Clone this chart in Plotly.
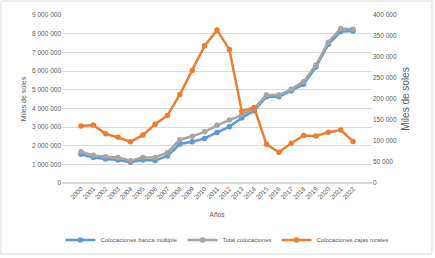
import plotly.graph_objects as go

years = [str(y) for y in range(2000, 2023)]
banca_multiple = [1540000, 1360000, 1290000, 1230000, 1110000, 1230000, 1200000, 1450000,
                  2090000, 2210000, 2390000, 2710000, 3020000, 3480000, 3870000, 4620000,
                  4620000, 4930000, 5290000, 6210000, 7430000, 8110000, 8140000]
total_colocaciones = [1680000, 1480000, 1410000, 1360000, 1190000, 1370000, 1370000, 1640000,
                      2320000, 2500000, 2740000, 3090000, 3370000, 3640000, 4000000, 4710000,
                      4710000, 5020000, 5430000, 6320000, 7540000, 8280000, 8230000]
cajas_rurales = [136000, 138000, 117000, 109000, 98000, 114000, 140000, 161000,
                 211000, 268000, 327000, 364000, 318000, 171000, 180000, 92000,
                 73000, 94500, 113000, 112000, 121000, 126000, 99000]

left_ticks = list(range(0, 9000001, 1000000))
left_labels = ["0" if v == 0 else f"{v:,}".replace(",", " ") for v in left_ticks]
right_ticks = list(range(0, 400001, 50000))
right_labels = ["0" if v == 0 else f"{v:,}".replace(",", " ") for v in right_ticks]

FONT = "Liberation Sans"
GRAY = "#595959"

fig = go.Figure()
fig.add_trace(go.Scatter(x=years, y=banca_multiple, name="Colocaciones banca múltiple",
                         mode="lines+markers", line=dict(color="#5B9BD5", width=2.5),
                         marker=dict(size=5.5, color="#5B9BD5")))
fig.add_trace(go.Scatter(x=years, y=total_colocaciones, name="Total colocaciones",
                         mode="lines+markers", line=dict(color="#A5A5A5", width=2.5),
                         marker=dict(size=5.5, color="#A5A5A5")))
fig.add_trace(go.Scatter(x=years, y=cajas_rurales, name="Colocaciones cajas rurales",
                         mode="lines+markers", line=dict(color="#ED7D31", width=2.5),
                         marker=dict(size=5.5, color="#ED7D31"), yaxis="y2"))

L, R, T, B = 62, 63, 15, 75
W, H = 435, 258
pw, ph = W - L - R, H - T - B

fig.update_layout(
    width=W, height=H,
    margin=dict(l=L, r=R, t=T, b=B, autoexpand=False),
    paper_bgcolor="white", plot_bgcolor="white",
    font=dict(family=FONT, size=7, color=GRAY),
    showlegend=True,
    legend=dict(orientation="h", x=-0.005, xanchor="left", y=-57 / ph, yanchor="middle",
                font=dict(size=6, color=GRAY), itemwidth=30, tracegroupgap=0,
                bgcolor="rgba(0,0,0,0)"),
    xaxis=dict(type="category", tickangle=-45, tickfont=dict(size=6.5, color=GRAY),
               showgrid=False, showline=False, ticks="", automargin=False,
               title=dict(text="Años", font=dict(size=6.5, color=GRAY), standoff=12)),
    yaxis=dict(range=[0, 9000000], tickvals=left_ticks, ticktext=left_labels,
               showgrid=True, gridcolor="#D9D9D9", gridwidth=1, zeroline=True,
               zerolinecolor="#D9D9D9", ticks="", tickfont=dict(size=6.5, color=GRAY),
               automargin=False,
               title=dict(text="Miles de soles", font=dict(size=7, color=GRAY), standoff=4)),
    yaxis2=dict(range=[0, 400000], tickvals=right_ticks, ticktext=right_labels,
                overlaying="y", side="right", showgrid=False, zeroline=False, ticks="",
                tickfont=dict(size=6.5, color=GRAY), automargin=False,
                title=dict(text="Miles de soles", font=dict(size=10, color=GRAY), standoff=6)),
    shapes=[dict(type="rect", xref="paper", yref="paper",
                 x0=-(L - 1) / pw, x1=(pw + R - 3) / pw,
                 y0=-(B - 4) / ph, y1=(ph + T - 1) / ph,
                 line=dict(color="#D9D9D9", width=1), fillcolor="rgba(0,0,0,0)")],
)

fig.write_html("out.html", config={"displayModeBar": False},
               post_script="document.body.style.margin='0';document.body.style.padding='0';")
